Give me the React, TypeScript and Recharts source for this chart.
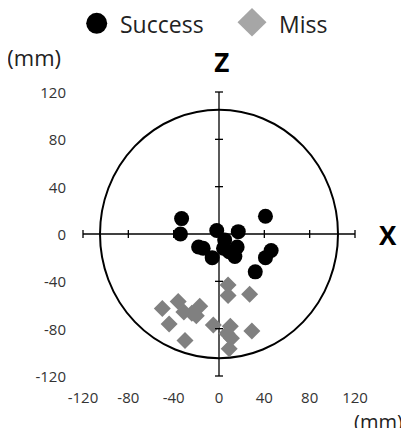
import React from "react";
import {
  ScatterChart,
  Scatter,
  XAxis,
  YAxis,
  ReferenceLine,
  ReferenceDot,
  ReferenceArea,
} from "recharts";

// landing points (mm)
const successX = [-33, -34, 41, -2, 17, -18, -14, -6, 5, 4, 16, 14, 9, 46, 41, 32];
const successY = [13, 0, 15, 3, 2, -11, -12, -20, -5, -12, -11, -19, -15, -14, -20, -32];

const missX = [8, 8, 27, -50, -36, -31, -24, -17, -20, -44, -5, 10, 29, 11, -30, 9, 7];
const missY = [-43, -52, -51, -63, -57, -66, -67, -61, -69, -76, -77, -78, -82, -88, -90, -97, -84];

const axisTicks = [-120, -80, -40, 0, 40, 80, 120];
const crossTicks = [-120, -80, -40, 40, 80, 120];
const targetRadius = 105;

const successData = successX.map((x, i) => ({ x, y: successY[i] }));
const missData = missX.map((x, i) => ({ x, y: missY[i] }));

const FONT = "'Open Sans', sans-serif";
const tickStyle = { fontSize: 15, fill: "#333", fontFamily: FONT };

const SuccessDot = (props: any) => (
  <circle cx={props.cx} cy={props.cy} r={7.5} fill="#000" />
);

const MissDiamond = (props: any) => {
  const { cx, cy } = props;
  const h = 8.5;
  return (
    <polygon
      points={`${cx},${cy - h} ${cx + h},${cy} ${cx},${cy + h} ${cx - h},${cy}`}
      fill="#808080"
    />
  );
};

const XTickMark = (props: any) => (
  <line x1={props.cx} x2={props.cx} y1={props.cy - 4} y2={props.cy + 4} stroke="#000" strokeWidth={1.3} />
);

const YTickMark = (props: any) => (
  <line x1={props.cx - 4} x2={props.cx + 4} y1={props.cy} y2={props.cy} stroke="#000" strokeWidth={1.3} />
);

// y labels sit well left of the plot, like Excel's "low" label position
const YTickLabel = (props: any) => (
  <text
    x={props.x - 17}
    y={props.y}
    textAnchor="end"
    dominantBaseline="central"
    fontSize={15}
    fill="#333"
    fontFamily={FONT}
  >
    {props.payload.value}
  </text>
);

const TargetCircle = (props: any) => (
  <ellipse
    cx={props.x + props.width / 2}
    cy={props.y + props.height / 2}
    rx={Math.abs(props.width) / 2}
    ry={Math.abs(props.height) / 2}
    fill="none"
    stroke="#000"
    strokeWidth={2}
  />
);

export default function App() {
  return (
    <div style={{ position: "relative", width: 401, height: 420 }}>
      <ScatterChart
        width={401}
        height={420}
        margin={{ top: 84, right: 54, bottom: 12, left: 0 }}
      >
        <XAxis
          type="number"
          dataKey="x"
          domain={[-120, 120]}
          ticks={axisTicks}
          axisLine={false}
          tickLine={false}
          tickSize={0}
          tickMargin={16}
          height={40}
          tick={tickStyle}
          allowDataOverflow
        />
        <YAxis
          type="number"
          dataKey="y"
          domain={[-120, 120]}
          ticks={axisTicks}
          axisLine={false}
          tickLine={false}
          tickSize={0}
          tickMargin={0}
          width={75}
          tick={YTickLabel}
          allowDataOverflow
        />
        <ReferenceArea
          x1={-targetRadius}
          x2={targetRadius}
          y1={-targetRadius}
          y2={targetRadius}
          shape={TargetCircle}
          ifOverflow="visible"
        />
        <Scatter data={missData} shape={MissDiamond} isAnimationActive={false} />
        <ReferenceLine x={0} stroke="#000" strokeWidth={1.3} />
        <ReferenceLine y={0} stroke="#000" strokeWidth={1.3} />
        {crossTicks.map((t) => (
          <ReferenceDot key={`xt${t}`} x={t} y={0} shape={XTickMark} ifOverflow="visible" />
        ))}
        {crossTicks.map((t) => (
          <ReferenceDot key={`yt${t}`} x={0} y={t} shape={YTickMark} ifOverflow="visible" />
        ))}
        <Scatter data={successData} shape={SuccessDot} isAnimationActive={false} />
      </ScatterChart>

      {/* legend and axis captions, in page coordinates */}
      <svg
        width={409}
        height={436}
        style={{ position: "absolute", left: -8, top: -8, pointerEvents: "none" }}
        fontFamily={FONT}
      >
        <circle cx={96.7} cy={23.3} r={10.5} fill="#000" />
        <text x={120} y={23.5} fontSize={23} fill="#222" dominantBaseline="central">
          Success
        </text>
        <polygon points="252,8 266.5,22.3 252,36.6 237.5,22.3" fill="#a6a6a6" />
        <text x={279} y={23.5} fontSize={23} fill="#222" dominantBaseline="central">
          Miss
        </text>
        <text x={7.3} y={57} fontSize={22} fill="#222" dominantBaseline="central">
          (mm)
        </text>
        <text x={221.7} y={61.7} fontSize={26} fontWeight="bold" fill="#000" textAnchor="middle" dominantBaseline="central">
          Z
        </text>
        <text x={387.7} y={235} fontSize={26} fontWeight="bold" fill="#000" textAnchor="middle" dominantBaseline="central">
          X
        </text>
        <text x={354} y={429} fontSize={20} fill="#222">
          (mm)
        </text>
      </svg>
    </div>
  );
}
